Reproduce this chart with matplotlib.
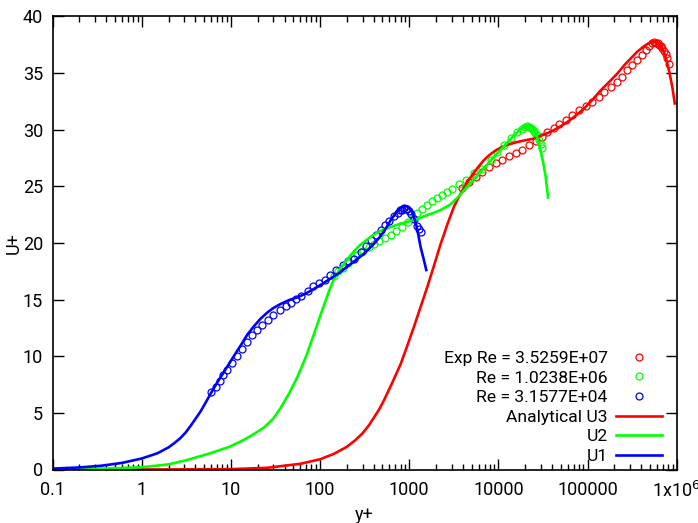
import matplotlib
matplotlib.use("Agg")
import matplotlib.pyplot as plt
import numpy as np

plt.rcParams['font.family'] = ['Roboto', 'DejaVu Sans']
plt.rcParams['font.size'] = 13

# analytical profiles
u1_x = [0.1, 0.2, 0.35, 0.6, 1.0, 1.5, 2.0, 2.3, 2.7, 3.1, 3.5, 4.0, 4.6, 5.3, 6.1, 7.0, 8.2,
        9.5, 11, 12.9, 15.3, 18.2, 21.5, 25.6, 30, 36, 45, 56, 70, 86, 107, 131, 165, 202,
        250, 311, 390, 479, 550, 620, 690, 740, 790, 840, 895, 950, 1010, 1085, 1150,
        1215, 1280, 1345, 1450, 1555]
u1_y = [0.08, 0.18, 0.33, 0.58, 0.97, 1.43, 1.95, 2.3, 2.75, 3.25, 3.8, 4.45, 5.15, 6.0, 6.85,
        7.65, 8.5, 9.3, 10.1, 10.95, 11.9, 12.65, 13.3, 13.85, 14.25, 14.6, 14.95, 15.2, 15.55,
        15.95, 16.4, 16.85, 17.35, 17.9, 18.45, 19.05, 19.8, 20.6, 21.3, 22.0, 22.5, 22.8,
        23.05, 23.2, 23.25, 23.2, 23.0, 22.7, 22.1, 21.4, 20.5, 19.6, 18.6, 17.6]

u2_x = [0.1, 0.3, 1.0, 2.0, 3.1, 5.7, 9.6, 13.5, 17.5, 23.5, 30, 36, 45, 56, 70, 86, 100,
        111, 127, 143, 165, 185, 210, 240, 280, 339, 403, 521, 650, 802, 1000, 1233, 1596,
        1900, 2254, 2917, 3600, 4300, 5500, 6900, 8500, 10600, 12800, 15000, 17200, 19400,
        21500, 23000, 24600, 26200, 28000, 29800, 32000, 34000, 36100]
u2_y = [0.01, 0.05, 0.2, 0.45, 0.8, 1.4, 2.0, 2.55, 3.05, 3.7, 4.5, 5.4, 6.7, 8.2, 10.0, 12.0,
        13.5, 14.5, 15.8, 16.8, 17.6, 18.15, 18.7, 19.25, 19.8, 20.3, 20.75, 21.2, 21.45,
        21.7, 21.9, 22.1, 22.45, 22.65, 22.9, 23.4, 24.1, 24.8, 25.7, 26.6, 27.4, 28.2, 28.9,
        29.5, 29.95, 30.25, 30.4, 30.35, 30.1, 29.7, 29.0, 28.1, 27.0, 25.8, 24.0]

u3_x = [0.1, 1.0, 10, 25.6, 60, 100, 143, 200, 250, 300, 350, 400, 460, 521, 650, 802, 950,
        1132, 1350, 1596, 1900, 2254, 2700, 3180, 3700, 4120, 4700, 5330, 6100, 6900, 7800,
        8930, 10600, 12600, 16300, 20000, 25100, 30000, 38600, 48000, 59400, 73000, 91400,
        113000, 141000, 175000, 216000, 260000, 305000, 365000, 430000, 480000, 535000,
        590000, 634000, 680000, 721000, 770000, 820000, 860000, 895000, 951000]
u3_y = [0.0, 0.0, 0.03, 0.15, 0.5, 0.9, 1.38, 2.0, 2.6, 3.2, 3.85, 4.55, 5.3, 6.1, 7.7, 9.3,
        10.9, 12.6, 14.4, 16.1, 18.0, 19.9, 21.7, 23.2, 24.2, 24.9, 25.6, 26.2, 26.8, 27.3,
        27.7, 28.05, 28.4, 28.65, 28.9, 29.05, 29.2, 29.45, 29.8, 30.2, 30.67, 31.2, 31.85,
        32.6, 33.47, 34.2, 34.94, 35.7, 36.27, 36.9, 37.35, 37.6, 37.75, 37.7, 37.55, 37.2,
        36.85, 36.1, 35.2, 34.4, 33.7, 32.3]

# experimental points
exp1_x = [5.93, 6.75, 7.53, 8.22, 9.12, 10.4, 11.8, 13.4, 15.3, 17.4, 19.8, 22.5, 26.1, 29.9,
          35.5, 41.1, 46.8, 53.2, 61.6, 73.3, 84.0, 97.2, 113, 131, 151, 182, 208, 240, 285,
          324, 370, 421, 479, 531, 593, 675, 748, 790, 837, 870, 912, 950, 1000, 1038, 1132,
          1233, 1300, 1344]
exp1_y = [6.83, 7.27, 7.77, 8.30, 8.80, 9.39, 10.01, 10.66, 11.24, 11.83, 12.27, 12.72, 13.16,
          13.60, 14.04, 14.39, 14.69, 15.07, 15.31, 15.72, 16.16, 16.48, 16.75, 17.13, 17.63,
          18.01, 18.37, 18.60, 19.19, 19.72, 20.22, 20.66, 21.16, 21.55, 21.93, 22.34, 22.64,
          22.9, 22.93, 23.1, 23.02, 23.0, 22.85, 22.58, 22.14, 21.46, 21.2, 20.96]

exp2_x = [145, 160, 180, 205, 235, 262, 300, 350, 403, 460, 530, 619, 720, 830, 960, 1100,
          1233, 1400, 1600, 1800, 2050, 2350, 2650, 3050, 3620, 4300, 5330, 6610, 8200, 9750,
          11600, 13700, 16300, 18600, 19800, 20800, 22000, 23100, 24000, 25100, 26000, 26900,
          28600, 29800, 31100]
exp2_y = [17.1, 17.5, 17.8, 18.25, 18.6, 18.9, 19.3, 19.65, 19.9, 20.2, 20.45, 20.7, 21.05,
          21.4, 21.8, 22.2, 22.6, 22.95, 23.35, 23.7, 24.0, 24.25, 24.5, 24.75, 25.17, 25.58,
          26.17, 26.55, 27.29, 28.02, 28.61, 29.29, 29.79, 30.08, 30.2, 30.29, 30.25, 30.17,
          30.05, 29.88, 29.7, 29.5, 29.05, 28.7, 28.41]

exp3_x = [3870, 4690, 5560, 6610, 7850, 9330, 11100, 13200, 15600, 18600, 22100, 26200, 31100,
          35400, 42100, 47900, 56900, 67600, 80300, 95400, 113000, 135000, 153000, 182000,
          216000, 246000, 280000, 318000, 362000, 412000, 450000, 490000, 535000, 560000,
          582000, 610000, 634000, 660000, 692000, 720000, 754000, 787000, 820000]
exp3_y = [24.85, 25.37, 25.82, 26.26, 26.7, 27.05, 27.35, 27.64, 27.94, 28.23, 28.61, 29.0,
          29.35, 29.79, 30.17, 30.53, 30.88, 31.26, 31.7, 32.06, 32.44, 32.88, 33.32, 33.76,
          34.2, 34.65, 35.24, 35.68, 36.12, 36.56, 37.0, 37.35, 37.65, 37.7, 37.65, 37.6,
          37.5, 37.35, 37.15, 36.9, 36.7, 36.27, 35.82]

xticks = [0.1, 1, 10, 100, 1000, 10000, 100000, 1e6]
xticklabels = ['0.1', '1', '10', '100', '1000', '10000', '100000', '1x10$^{6}$']

red, green, blue = '#ff0000', '#00ff00', '#0000ff'

fig = plt.figure(figsize=(6.98, 5.23), dpi=100)
ax = fig.add_axes([52.5/698, 1-469.5/523, 624.2/698, 453.3/523])

mk = dict(ls='none', marker='o', mfc='none', ms=5, mew=0.9)
ax.plot(exp3_x, exp3_y, color=red, label='Exp Re = 3.5259E+07', **mk)
ax.plot(exp2_x, exp2_y, color=green, label='Re = 1.0238E+06', **mk)
ax.plot(exp1_x, exp1_y, color=blue, label='Re = 3.1577E+04', **mk)
ax.plot(u3_x, u3_y, color=red, lw=1.9, label='Analytical U3')
ax.plot(u2_x, u2_y, color=green, lw=1.9, label='U2')
ax.plot(u1_x, u1_y, color=blue, lw=1.9, label='U1')

ax.set_xscale('log')
ax.set_xlim(0.1, 1e6)
ax.set_ylim(0, 40)
ax.set_xticks(xticks)
ax.set_xticklabels(xticklabels)
ax.set_yticks(range(0, 41, 5))
ax.xaxis.set_minor_locator(matplotlib.ticker.LogLocator(base=10, subs=np.arange(2, 10)))
ax.xaxis.set_minor_formatter(matplotlib.ticker.NullFormatter())
ax.tick_params(which='both', direction='in', top=True, right=True, width=1)
ax.tick_params(which='major', length=8)
ax.tick_params(which='minor', length=4)
ax.tick_params(axis='x', which='major', pad=8.5)
ax.tick_params(axis='y', which='major', pad=6.8)
for s in ax.spines.values():
    s.set_linewidth(1.2)

ax.set_xlabel('y+', labelpad=3)
ax.set_ylabel('U+', labelpad=0)

leg = ax.legend(loc='lower right', bbox_to_anchor=(0.9765, 0.012), frameon=False,
                markerfirst=False, borderpad=0, borderaxespad=0, handlelength=2.65,
                handletextpad=0.45, labelspacing=0.25, numpoints=1, fontsize=12.6)

fig.savefig('out.png', dpi=100)
